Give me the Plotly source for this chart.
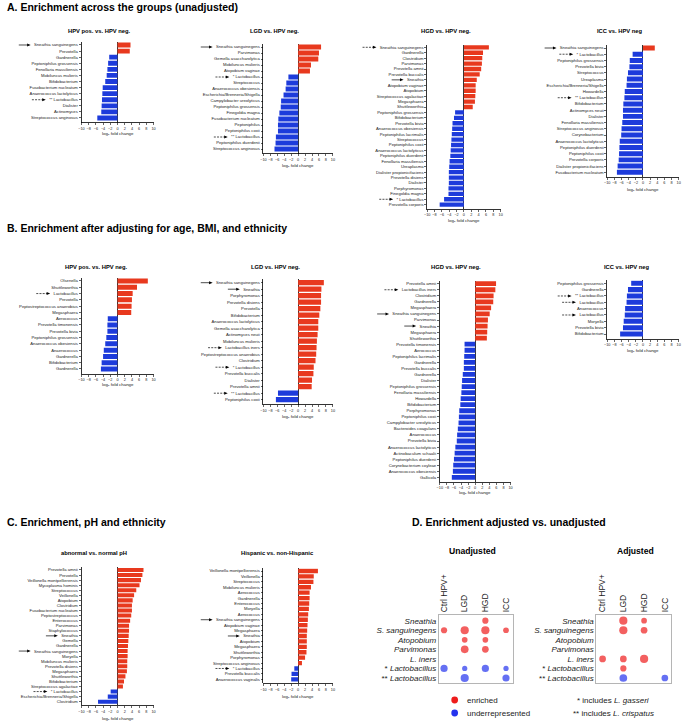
import plotly.graph_objects as go

# ---------------- DATA ----------------
A1_labels = ["Sneathia sanguinegens", "Prevotella", "Gardnerella", "Peptoniphilus grossensis",
             "Fenollaria massiliensis", "Mobiluncus mulieris", "Bifidobacterium", "Fusobacterium nucleatum",
             "Anaerococcus lactolyticus", "** Lactobacillus", "Dialister", "Actinomyces", "Streptococcus anginosus"]
A1_values = [3.6, 3.4, -2.3, -2.6, -2.8, -3.0, -3.4, -4.1, -4.2, -4.3, -4.4, -4.5, -5.6]
A1_solid, A1_dashed = [0], [9]

A2_labels = ["Sneathia sanguinegens", "Parvimonas", "Gemella asaccharolytica", "Mobiluncus mulieris",
             "Atopobium vaginae", "* Lactobacillus", "Streptococcus", "Anaerococcus obesiensis",
             "Escherichia/Brenneria/Shigella", "Campylobacter ureolyticus", "Peptoniphilus grossensis",
             "Finegoldia magna", "Fusobacterium nucleatum", "Peptoniphilus", "Peptoniphilus coxii",
             "** Lactobacillus", "Peptoniphilus duerdenii", "Streptococcus anginosus"]
A2_values = [6.6, 6.0, 5.8, 3.7, 3.4, -2.8, -3.4, -3.6, -4.2, -4.9, -5.0, -5.4, -5.7, -5.8, -5.8, -6.4, -6.5, -6.8]
A2_solid, A2_dashed = [0], [5, 15]

A3_labels = ["Sneathia sanguinegens", "Gardnerella", "Clostridium", "Parvimonas", "Prevotella amnii",
             "Prevotella buccalis", "Sneathia", "Atopobium vaginae", "Atopobium", "Streptococcus agalactiae",
             "Megasphaera", "Shuttleworthia", "Peptoniphilus grossensis", "Bifidobacterium", "Prevotella bivia",
             "Anaerococcus obesiensis", "Peptoniphilus lacrimalis", "Streptococcus", "Peptoniphilus coxii",
             "Anaerococcus lactolyticus", "Peptoniphilus duerdenii", "Fenollaria massiliensis", "Ureaplasma",
             "Dialister propionicifaciens", "Prevotella disiens", "Dialister", "Porphyromonas",
             "Finegoldia magna", "* Lactobacillus", "Prevotella corporis"]
A3_values = [6.8, 5.2, 5.0, 4.9, 4.7, 4.3, 3.5, 3.2, 3.2, 3.1, 3.0, 2.4, -2.4, -2.7, -3.1, -3.2, -3.3,
             -3.4, -3.5, -3.6, -3.7, -3.9, -4.0, -4.1, -4.1, -4.1, -4.2, -4.2, -5.4, -6.6]
A3_solid, A3_dashed = [6], [0, 28]

A4_labels = ["Sneathia sanguinegens", "* Lactobacillus", "Peptoniphilus grossensis", "Prevotella bivia",
             "Streptococcus", "Ureaplasma", "Escherichia/Brenneria/Shigella", "Howardella", "** Lactobacillus",
             "Bifidobacterium", "Actinomyces neuii", "Dialister", "Fenollaria massiliensis",
             "Streptococcus anginosus", "Corynebacterium", "Anaerococcus lactolyticus", "Peptoniphilus duerdenii",
             "Peptoniphilus coxii", "Prevotella corporis", "Dialister propionicifaciens", "Fusobacterium nucleatum"]
A4_values = [3.3, -2.9, -3.7, -3.8, -4.2, -4.5, -4.6, -5.1, -5.2, -5.5, -5.6, -5.6, -5.8, -6.0, -6.1,
             -6.5, -6.6, -6.7, -6.8, -7.1, -7.3]
A4_solid, A4_dashed = [0], [1, 8]

B1_labels = ["Olsenella", "Shuttleworthia", "Lactobacillus", "Prevotella", "Peptostreptococcus anaerobius",
             "Megasphaera", "Aerococcus", "Prevotella timonensis", "Prevotella bivia", "Peptoniphilus grossensis",
             "Anaerococcus obesiensis", "Anaerococcus", "Gardnerella", "Bifidobacterium", "Gardnerella"]
B1_values = [8.4, 5.4, 4.2, 4.0, 3.9, 3.8, -2.7, -2.8, -2.8, -3.1, -3.4, -3.8, -4.0, -4.4, -4.6]
B1_solid, B1_dashed = [], [2]

B2_labels = ["Sneathia sanguinegens", "Sneathia", "Porphyromonas", "Prevotella disiens", "Prevotella",
             "Bifidobacterium", "Anaerococcus lactolyticus", "Gemella asaccharolytica", "Actinomyces neuii",
             "Mobiluncus mulieris", "Lactobacillus iners", "Peptostreptococcus anaerobius", "Clostridium",
             "* Lactobacillus", "Prevotella buccalis", "Dialister", "Prevotella amnii", "** Lactobacillus",
             "Peptoniphilus coxii"]
B2_values = [7.4, 6.7, 6.6, 6.6, 6.4, 6.1, 5.8, 5.8, 5.6, 5.4, 5.3, 5.2, 5.0, 4.5, 4.4, 4.0, 3.9, -5.8, -6.4]
B2_solid, B2_dashed = [0, 1], [10, 13, 17]

B3_labels = ["Prevotella amnii", "Lactobacillus iners", "Clostridium", "Gardnerella", "Megasphaera",
             "Sneathia sanguinegens", "Parvimonas", "Sneathia", "Megasphaera", "Shuttleworthia",
             "Prevotella timonensis", "Aerococcus", "Peptoniphilus lacrimalis", "Gardnerella",
             "Prevotella buccalis", "Gardnerella", "Dialister", "Peptoniphilus grossensis",
             "Fenollaria massiliensis", "Howardella", "Bifidobacterium", "Porphyromonas", "Peptoniphilus coxii",
             "Campylobacter ureolyticus", "Bacteroides coagulans", "Anaerococcus", "Prevotella bivia",
             "Anaerococcus lactolyticus", "Actinobaculum schaalii", "Peptoniphilus duerdenii",
             "Corynebacterium coyleae", "Anaerococcus obesiensis", "Gallicola"]
B3_values = [5.9, 5.7, 5.2, 5.1, 4.5, 4.1, 3.6, 3.5, 3.4, 3.3, -3.0, -3.0, -3.1, -3.2, -3.2, -3.5, -3.7,
             -3.8, -3.9, -4.1, -4.2, -4.5, -4.6, -4.7, -4.9, -5.1, -5.2, -5.6, -5.8, -6.0, -6.2, -6.3, -6.6]
B3_solid, B3_dashed = [5, 7], [1]

B4_labels = ["Peptoniphilus grossensis", "Gardnerella", "** Lactobacillus", "Lactobacillus", "Anaerococcus",
             "Lactobacillus", "Moryella", "Prevotella bivia", "Bifidobacterium"]
B4_values = [-3.3, -4.2, -4.5, -4.6, -5.0, -5.1, -5.4, -5.6, -6.4]
B4_solid, B4_dashed = [], [2, 3, 5]

C1_labels = ["Prevotella amnii", "Prevotella", "Veillonella montpellierensis", "Mycoplasma hominis",
             "Streptococcus", "Veillonella", "Atopobium", "Clostridium", "Fusobacterium nucleatum",
             "Peptostreptococcus", "Enterococcus", "Parvimonas", "Staphylococcus", "Sneathia", "Gemella",
             "Gardnerella", "Sneathia sanguinegens", "Moryella", "Mobiluncus mulieris", "Prevotella disiens",
             "Megasphaera", "Shuttleworthia", "Bifidobacterium", "Streptococcus agalactiae", "* Lactobacillus",
             "Escherichia/Brenneria/Shigella", "Clostridium"]
C1_values = [7.2, 6.9, 6.5, 6.1, 5.2, 4.6, 4.2, 4.0, 4.0, 3.8, 3.5, 3.2, 3.2, 3.1, 3.0, 2.9, 2.8, 2.8,
             2.7, 2.7, 2.6, 2.2, 1.8, 1.5, -1.9, -2.7, -5.4]
C1_solid, C1_dashed = [13, 16], [24]

C2_labels = ["Veillonella montpellierensis", "Veillonella", "Streptococcus", "Mobiluncus mulieris",
             "Aerococcus", "Gardnerella", "Enterococcus", "Moryella", "Aerococcus", "Sneathia sanguinegens",
             "Atopobium vaginae", "Megasphaera", "Sneathia", "Atopobium", "Megasphaera", "Shuttleworthia",
             "Porphyromonas", "Streptococcus anginosus", "* Lactobacillus", "Prevotella buccalis",
             "Anaerococcus vaginalis"]
C2_values = [5.7, 4.5, 4.4, 3.7, 3.3, 3.3, 3.2, 3.1, 2.9, 2.8, 2.7, 2.6, 2.5, 2.5, 2.5, 2.4, 2.0, 1.1,
             -1.1, -1.9, -2.0]
C2_solid, C2_dashed = [9, 12], [18]

x_ticks = [-10, -8, -6, -4, -2, 0, 2, 4, 6, 8, 10]

# Panel D: signed magnitude level (+ enriched, - underrepresented, 0 none)
D_rows = ["Sneathia", "S. sanguinegens", "Atopobium", "Parvimonas", "L. iners", "* Lactobacillus", "** Lactobacillus"]
D_cols = ["Ctrl HPV+", "LGD", "HGD", "ICC"]
D_unadj = [[0, 0, 2, 0],
           [2, 4, 4, 1.5],
           [0, 1.5, 1.5, 0],
           [0, 3.5, 2.5, 0],
           [0, 0, 0, 0],
           [-3, -1, -3, -1],
           [0, -4, 0, -3]]
D_adj = [[0, 4, 1.5, 0],
         [0, 4, 2.5, 0],
         [0, 0, 0, 0],
         [0, 0, 0, 0],
         [2.5, 2.5, 4, 0],
         [0, 2, 0, 0],
         [0, -3.5, 0, -2.5]]

# ---------------- STYLE / LAYOUT ----------------
OFF = 0
W, H = 685, 723
FONT = "Liberation Sans, Arial, sans-serif"
RED, BLUE = "#E8391E", "#1D3BDB"
DRED, DBLUE = "#EE1C1C", "#2433EE"
TICKFS = 4.2
XTICKFS = 3.8
TICKLEN = 2
LABEL_PAD = 3.0


def px(x):
    return (x - OFF) / W


def py(y):
    return 1 - (y - OFF) / H


CW = dict(zip("abcdefghijklmnopqrstuvwxyz",
              [556, 556, 500, 556, 556, 278, 556, 556, 222, 222, 500, 222, 833, 556, 556, 556, 556, 333, 500,
               278, 556, 500, 722, 500, 500, 500]))
CW.update(dict(zip("ABCDEFGHIJKLMNOPQRSTUVWXYZ",
                   [667, 667, 722, 722, 667, 611, 778, 722, 278, 500, 667, 556, 833, 722, 778, 667, 778, 722,
                    667, 611, 722, 667, 944, 667, 667, 611])))
CW.update({" ": 278, "*": 389, "/": 278, ".": 278, "-": 333})


def text_w(s, size):
    return sum(CW.get(c, 556) for c in s) / 1000 * size


panels = [
    dict(lab=A1_labels, val=A1_values, so=A1_solid, da=A1_dashed, title="HPV pos. vs. HPV neg.",
         left=79, right=151.7, first=45, last=118, tx=97, ty=31.5, xl=133.3),
    dict(lab=A2_labels, val=A2_values, so=A2_solid, da=A2_dashed, title="LGD vs. HPV neg.",
         left=262.3, right=332.3, first=47, last=149, tx=273, ty=31.5, xl=165.7),
    dict(lab=A3_labels, val=A3_values, so=A3_solid, da=A3_dashed, title="HGD vs. HPV neg.",
         left=427.3, right=501.3, first=47.3, last=204.7, tx=446, ty=31.5, xl=220.7),
    dict(lab=A4_labels, val=A4_values, so=A4_solid, da=A4_dashed, title="ICC vs. HPV neg",
         left=608.7, right=680.7, first=48, last=172.3, tx=622, ty=31.5, xl=189.3),
    dict(lab=B1_labels, val=B1_values, so=B1_solid, da=B1_dashed, title="HPV pos. vs. HPV neg.",
         left=79, right=151.7, first=281, last=369, tx=94.3, ty=266.7, xl=384.3),
    dict(lab=B2_labels, val=B2_values, so=B2_solid, da=B2_dashed, title="LGD vs. HPV neg.",
         left=262.3, right=332.3, first=282.7, last=399.7, tx=274, ty=266.7, xl=416.7),
    dict(lab=B3_labels, val=B3_values, so=B3_solid, da=B3_dashed, title="HGD vs. HPV neg.",
         left=440, right=511.3, first=283.7, last=477.3, tx=456.7, ty=266.7, xl=492.7),
    dict(lab=B4_labels, val=B4_values, so=B4_solid, da=B4_dashed, title="ICC vs. HPV neg",
         left=608.7, right=680.7, first=283.3, last=334, tx=628.3, ty=266.7, xl=350.7),
    dict(lab=C1_labels, val=C1_values, so=C1_solid, da=C1_dashed, title="abnormal vs. normal pH",
         left=79, right=151.7, first=570, last=701.7, tx=91.7, ty=552.7, xl=718.3),
    dict(lab=C2_labels, val=C2_values, so=C2_solid, da=C2_dashed, title="Hispanic vs. non-Hispanic",
         left=262.3, right=332.3, first=571, last=679.3, tx=276.7, ty=552.7, xl=696.7),
]

fig = go.Figure()
layout = dict(width=W, height=H, margin=dict(l=0, r=0, t=0, b=0), paper_bgcolor="white",
              plot_bgcolor="white", showlegend=False, font=dict(family=FONT, color="#222"))
annotations = []
shapes = []


def add_arrow(end, idx, sp, yref, dashed):
    """Arrow pointing right, tip at page-x `end`, on category row idx."""
    hh = 1.5 / sp          # half head height in data units
    head = 3.6
    shapes.append(dict(type="line", xref="paper", yref=yref, x0=px(end - (14 if dashed else 12)),
                       x1=px(end - head + 0.5), y0=idx, y1=idx,
                       line=dict(color="black", width=0.7, dash="2px,1.2px" if dashed else "solid")))
    path = "M {a},{b} L {c},{d} L {a},{e} Z".format(a=px(end - head), b=idx - hh, c=px(end), d=idx,
                                                     e=idx + hh)
    shapes.append(dict(type="path", xref="paper", yref=yref, path=path, fillcolor="black",
                       line=dict(width=0)))


for k, p in enumerate(panels, start=1):
    sfx = "" if k == 1 else str(k)
    n = len(p["lab"])
    sp = (p["last"] - p["first"]) / (n - 1)
    top = p["first"] - 0.5 * sp
    bottom = p["last"] + 0.75 * sp
    colors = [RED if v > 0 else BLUE for v in p["val"]]
    fig.add_trace(go.Bar(x=p["val"], y=list(range(n)), orientation="h", width=0.8,
                         marker=dict(color=colors, line=dict(width=0)),
                         xaxis="x" + sfx, yaxis="y" + sfx, hoverinfo="x+text", text=p["lab"],
                         textposition="none"))
    layout["xaxis" + sfx] = dict(domain=[px(p["left"]), px(p["right"])], range=[-10, 10], anchor="y" + sfx,
                                 tickvals=x_ticks, tickangle=0, ticks="outside", ticklen=TICKLEN, tickwidth=0.6,
                                 tickcolor="black", showline=True, linecolor="black", linewidth=0.8,
                                 showgrid=False, zeroline=True, zerolinecolor="black", zerolinewidth=0.8,
                                 tickfont=dict(size=XTICKFS, family=FONT, color="#222"), fixedrange=True)
    layout["yaxis" + sfx] = dict(domain=[py(bottom), py(top)], range=[n - 1 + 0.75, -0.5], anchor="x" + sfx,
                                 tickvals=list(range(n)), ticktext=p["lab"], ticks="outside", ticklen=TICKLEN,
                                 tickwidth=0.6, tickcolor="black", showline=True, linecolor="black",
                                 linewidth=0.8, showgrid=False, zeroline=False,
                                 tickfont=dict(size=TICKFS, family=FONT, color="#222"), fixedrange=True)
    annotations.append(dict(text="<b>" + p["title"] + "</b>", x=px(p["tx"]), y=py(p["ty"]), xref="paper",
                            yref="paper", showarrow=False, xanchor="center", yanchor="middle",
                            font=dict(size=5.8, family=FONT, color="black")))
    annotations.append(dict(text="log₂ fold change", x=px((p["left"] + p["right"]) / 2),
                            y=py(p["xl"]), xref="paper", yref="paper", showarrow=False, xanchor="center",
                            yanchor="middle", font=dict(size=4.4, family=FONT, color="#222")))
    for idx in p["so"] + p["da"]:
        tl = p["left"] - TICKLEN - LABEL_PAD - text_w(p["lab"][idx], TICKFS)
        add_arrow(tl - 2.2, idx, sp, "y" + sfx, idx in p["da"])

# Section titles
for txt, x, y, anc in [("A. Enrichment across the groups (unadjusted)", 2, 7.5, "left"),
                       ("B. Enrichment after adjusting for age, BMI, and ethnicity", 2, 228, "left"),
                       ("C. Enrichment, pH and ethnicity", 2, 521.7, "left"),
                       ("D. Enrichment adjusted vs. unadjusted", 510, 521.7, "center")]:
    annotations.append(dict(text="<b>" + txt + "</b>", x=px(x), y=py(y), xref="paper", yref="paper",
                            showarrow=False, xanchor=anc, yanchor="middle",
                            font=dict(size=10.5, family=FONT, color="black")))

# Panel D dot matrices
dpanels = [
    dict(mat=D_unadj, title="Unadjusted", tx=473, left=439, right=514, col0=444.3, colsp=20.8),
    dict(mat=D_adj, title="Adjusted", tx=637, left=597.7, right=673.3, col0=604, colsp=20.9),
]
row0, rowsp, boxtop, boxbot = 620.7, 9.55, 615, 682.7
row_text = ["<i>" + r + "</i>" if not r.startswith("*") else r.split(" ")[0] + " <i>" + r.split(" ")[1] + "</i>"
            for r in D_rows]
for j, d in enumerate(dpanels):
    k = 11 + j
    sfx = str(k)
    xs, ys, ss, cs = [], [], [], []
    for ri, row in enumerate(d["mat"]):
        for ci, v in enumerate(row):
            if v != 0:
                xs.append(ci)
                ys.append(ri)
                ss.append(4.2 + abs(v))
                cs.append(DRED if v > 0 else DBLUE)
    fig.add_trace(go.Scatter(x=xs, y=ys, mode="markers", marker=dict(size=ss, color=cs, line=dict(width=0)),
                             xaxis="x" + sfx, yaxis="y" + sfx, hoverinfo="skip"))
    layout["xaxis" + sfx] = dict(domain=[px(d["left"]), px(d["right"])],
                                 range=[(d["left"] - d["col0"]) / d["colsp"], (d["right"] - d["col0"]) / d["colsp"]],
                                 anchor="y" + sfx, side="top", tickvals=list(range(4)), ticktext=D_cols,
                                 tickangle=-90, ticks="", showline=True, mirror=True, linecolor="#b5b5b5",
                                 linewidth=1, showgrid=False, zeroline=False,
                                 tickfont=dict(size=8.5, family=FONT, color="#222"), fixedrange=True)
    layout["yaxis" + sfx] = dict(domain=[py(boxbot), py(boxtop)],
                                 range=[(boxbot - row0) / rowsp, (boxtop - row0) / rowsp],
                                 anchor="x" + sfx, tickvals=list(range(len(D_rows))), ticktext=row_text,
                                 ticks="", showline=True, mirror=True, linecolor="#b5b5b5", linewidth=1,
                                 showgrid=False, zeroline=False,
                                 tickfont=dict(size=8, family=FONT, color="#222"), fixedrange=True)
    annotations.append(dict(text="<b>" + d["title"] + "</b>", x=px(d["tx"]), y=py(551), xref="paper",
                            yref="paper", showarrow=False, xanchor="center", yanchor="middle",
                            font=dict(size=8.6, family=FONT, color="black")))

# Legend for D
for col, lbl, yy in [(DRED, "enriched", 700), (DBLUE, "underrepresented", 713)]:
    r = 3.4
    shapes.append(dict(type="circle", xref="paper", yref="paper", x0=px(455 - r), x1=px(455 + r),
                       y0=py(yy + r), y1=py(yy - r), fillcolor=col, line=dict(width=0)))
    annotations.append(dict(text=lbl, x=px(465), y=py(yy), xref="paper", yref="paper", showarrow=False,
                            xanchor="left", yanchor="middle", font=dict(size=8, family=FONT, color="#222")))
annotations.append(dict(text="* includes <i>L. gasseri</i>", x=px(576), y=py(700), xref="paper", yref="paper",
                        showarrow=False, xanchor="left", yanchor="middle",
                        font=dict(size=8, family=FONT, color="#222")))
annotations.append(dict(text="** includes <i>L. crispatus</i>", x=px(572.3), y=py(713), xref="paper",
                        yref="paper", showarrow=False, xanchor="left", yanchor="middle",
                        font=dict(size=8, family=FONT, color="#222")))

layout["annotations"] = annotations
layout["shapes"] = shapes
fig.update_layout(**layout)
fig.write_html("out.html", config={"displayModeBar": False, "staticPlot": True},
               post_script="document.body.style.margin='0px';document.body.style.overflow='hidden';")
